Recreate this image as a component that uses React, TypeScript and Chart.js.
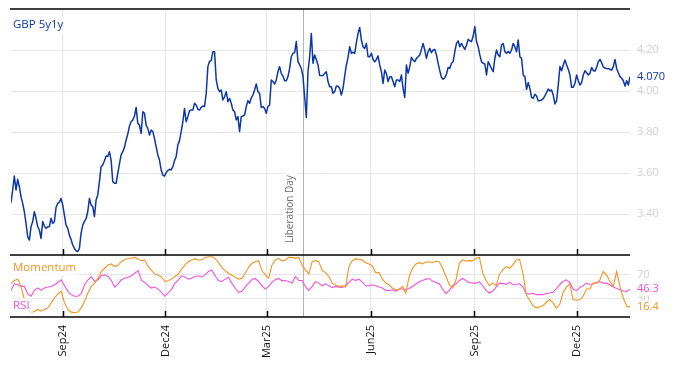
import { useEffect, useRef } from "react";
import { Chart, registerables } from "chart.js";

Chart.register(...registerables);

// ---- data ----
const START_DATE = "2024-07-17";
const END_DATE = "2026-01-17";
const TICK_DATES = ["2024-09-01", "2024-12-01", "2025-03-01", "2025-06-01", "2025-09-01", "2025-12-01"];
const TICK_LABELS = ["Sep24", "Dec24", "Mar25", "Jun25", "Sep25", "Dec25"];
const EVENT_DATE = "2025-04-02";
const EVENT_LABEL = "Liberation Day";
const SERIES_LABEL = "GBP 5y1y";
const MOM_LABEL = "Momentum";
const RSI_LABEL = "RSI";
const Y_TICKS = [3.4, 3.6, 3.8, 4.0, 4.2];
const IND_TICKS = [30, 70];

const GBP_5Y1Y = [
  3.455, 3.517, 3.585, 3.517, 3.569, 3.533, 3.485, 3.452, 3.411, 3.354,
  3.289, 3.273, 3.338, 3.363, 3.411, 3.379, 3.338, 3.322, 3.281, 3.363,
  3.341, 3.330, 3.338, 3.338, 3.379, 3.354, 3.363, 3.432, 3.452, 3.458,
  3.476, 3.444, 3.395, 3.346, 3.330, 3.297, 3.276, 3.249, 3.232, 3.221,
  3.216, 3.232, 3.306, 3.346, 3.364, 3.377, 3.411, 3.476, 3.444, 3.436,
  3.387, 3.468, 3.493, 3.558, 3.631, 3.639, 3.660, 3.683, 3.680, 3.704,
  3.663, 3.558, 3.550, 3.550, 3.598, 3.644, 3.688, 3.704, 3.725, 3.761,
  3.790, 3.829,
  3.850, 3.859, 3.878, 3.920, 3.842, 3.834, 3.793, 3.899, 3.891, 3.834,
  3.818, 3.785, 3.810, 3.802, 3.769, 3.728, 3.688, 3.663, 3.615, 3.590,
  3.585, 3.602, 3.613, 3.618, 3.615, 3.631, 3.660, 3.680, 3.737, 3.758,
  3.802, 3.850, 3.915, 3.850, 3.875, 3.904, 3.907, 3.907, 3.940, 3.932,
  3.911, 3.907, 3.920, 3.927, 3.924, 3.989, 4.119, 4.145, 4.148, 4.192,
  4.192, 4.054, 4.013, 3.997, 4.005, 3.956, 3.972, 3.997, 3.948, 3.964,
  3.940, 3.907, 3.899, 3.859, 3.875, 3.802, 3.875, 3.878, 3.883, 3.924,
  3.953, 3.940, 3.966,
  3.980, 4.005, 4.034, 3.997, 3.989, 3.920, 3.924, 3.915, 3.891, 3.924,
  3.932, 4.054, 4.046, 4.034, 4.054, 4.094, 4.119, 4.086, 4.073, 4.050,
  4.050, 4.070, 4.110, 4.167, 4.184, 4.187, 4.241, 4.143, 4.127, 4.110,
  4.070, 3.972, 3.871, 4.094, 4.167, 4.281, 4.135, 4.176, 4.154, 4.127,
  4.076, 4.075, 4.076, 4.086, 4.094, 4.046, 4.021, 4.021, 3.989, 3.997,
  4.024, 4.023, 4.013, 3.980, 4.013, 4.073, 4.127, 4.163, 4.216, 4.184,
  4.189, 4.184, 4.236, 4.281, 4.310, 4.249, 4.216, 4.208, 4.232, 4.167,
  4.167, 4.184, 4.154,
  4.143, 4.154, 4.171, 4.127, 4.094, 4.037, 4.102, 4.086, 4.046, 4.070,
  4.070, 4.046, 4.021, 4.054, 4.054, 4.046, 4.078, 4.013, 3.969, 4.127,
  4.086, 4.119, 4.164, 4.151, 4.143, 4.159, 4.167, 4.176, 4.203, 4.232,
  4.200, 4.159, 4.192, 4.208, 4.187, 4.200, 4.203, 4.176, 4.135, 4.099,
  4.067, 4.057, 4.065, 4.083, 4.115, 4.110, 4.135, 4.143, 4.192, 4.232,
  4.245, 4.216, 4.232, 4.216, 4.203, 4.224, 4.252, 4.245, 4.241, 4.268,
  4.314, 4.241, 4.216, 4.176, 4.143, 4.135, 4.132, 4.078, 4.143, 4.127,
  4.110, 4.094, 4.159,
  4.200, 4.176, 4.167, 4.224, 4.232, 4.192, 4.184, 4.192, 4.184, 4.200,
  4.232, 4.216, 4.192, 4.249, 4.167, 4.159, 4.078, 4.070, 4.008, 4.041,
  4.013, 3.969, 3.964, 3.984, 3.976, 3.953, 3.953, 3.956, 3.963, 3.976,
  3.992, 4.010, 4.000, 4.005, 3.980, 3.937, 3.953, 4.029, 4.119, 4.099,
  4.127, 4.151, 4.127, 4.106, 4.078, 4.018, 4.018, 4.037, 4.078, 4.050,
  4.029, 4.041, 4.078, 4.099, 4.089, 4.078, 4.086, 4.115, 4.099, 4.097,
  4.115, 4.143, 4.154, 4.138, 4.117, 4.112, 4.110, 4.109, 4.106, 4.102,
  4.119, 4.154, 4.110, 4.089, 4.070, 4.062, 4.050, 4.024, 4.050, 4.029,
  4.070,
];

const MOMENTUM = [
  56.3, 60.7, 62.9, 50.8, 28.9, 9.7, 7.0, 9.7, 12.5, 9.7,
  12.5, 15.2, 23.4, 31.6, 38.2, 42.6, 23.4, 12.5, 8.1, 7.0,
  8.1, 15.2, 26.2, 39.9, 50.8, 56.3, 64.5, 75.5, 81.0, 86.5,
  88.1, 83.7, 85.9, 91.9, 95.8, 96.9, 97.9, 99.0, 95.8, 93.6,
  94.7, 83.7, 77.1, 71.6, 69.5, 66.2, 59.0, 60.7, 62.9, 67.3,
  71.6, 79.3, 86.5, 91.9, 94.7, 96.9, 94.7, 94.7, 99.0, 100,
  100, 97.4, 90.3, 82.6, 77.1, 72.7, 69.5, 66.2, 62.9, 64.5,
  72.7, 82.6,
  89.2, 91.9, 93.6, 77.1, 70.0, 64.5, 86.5, 94.7, 97.4, 93.0,
  94.7, 99.0, 99.0, 97.4, 99.0, 86.5, 78.2, 71.6, 91.9, 93.6,
  91.9, 77.1, 73.8, 67.3, 56.3, 53.0, 50.8, 51.9, 49.7, 83.7,
  93.6, 96.9, 95.8, 94.7, 90.3, 88.1, 84.8, 73.8, 73.8, 62.9,
  56.3, 53.6, 48.1, 45.3, 45.3, 50.8, 39.9, 67.3, 81.0, 88.1,
  90.3, 88.1, 91.4, 91.4, 90.3, 92.5, 91.9, 81.0, 67.3, 53.6,
  48.1, 61.8, 89.2, 94.7, 93.0, 93.6, 93.0, 97.4, 99.0, 72.7,
  60.7, 51.9, 56.3, 51.9, 71.6,
  78.2, 83.7, 81.0, 86.5, 94.7, 95.8, 72.7, 37.1, 27.8, 19.0,
  15.2, 16.8, 19.0, 24.5, 28.9, 23.4, 14.7, 20.7, 41.0, 49.7,
  55.2, 28.9, 27.8, 28.9, 34.4, 46.4, 46.4, 56.3, 56.3, 61.8,
  75.5, 70.0, 59.0, 50.8, 75.5, 50.8, 31.6, 17.9, 16.4,
];

const RSI = [
  44.2, 55.2, 53.6, 50.8, 50.8, 38.8, 34.4, 44.2, 48.1, 44.2,
  48.1, 49.7, 50.8, 53.6, 57.4, 61.8, 51.9, 42.6, 37.1, 34.4,
  34.4, 38.8, 53.6, 61.8, 67.3, 59.0, 61.8, 68.4, 70.0, 67.3,
  60.7, 49.7, 55.2, 61.8, 64.5, 66.2, 68.4, 72.7, 77.1, 60.7,
  57.4, 51.9, 48.1, 49.7, 46.4, 40.9, 34.4, 39.9, 46.4, 56.3,
  61.8, 68.4, 66.2, 62.9, 64.5, 67.3, 68.4, 66.2, 70.0, 75.5,
  78.2, 68.4, 60.7, 59.0, 62.9, 66.2, 56.3, 48.1, 40.9, 42.6,
  49.7, 56.3,
  61.8, 64.0, 59.0, 51.9, 46.4, 50.8, 57.9, 61.8, 64.0, 60.1,
  60.7, 59.0, 56.3, 67.3, 60.7, 60.7, 50.8, 44.2, 50.8, 58.5,
  56.3, 51.9, 55.2, 51.9, 48.6, 50.8, 49.7, 49.2, 51.9, 57.4,
  62.9, 60.7, 62.9, 57.9, 51.9, 51.9, 53.6, 51.9, 49.7, 48.1,
  44.2, 43.7, 45.3, 43.1, 46.4, 46.4, 45.3, 47.5, 50.8, 54.7,
  58.5, 60.7, 62.9, 64.0, 59.6, 57.4, 55.2, 46.4, 38.8, 44.2,
  51.9, 55.2, 60.7, 64.0, 60.1, 57.4, 56.3, 56.3, 58.5, 51.9,
  44.2, 39.9, 43.1, 49.7, 56.3,
  55.8, 54.1, 57.9, 53.6, 54.1, 55.2, 49.7, 38.8, 38.2, 39.3,
  37.1, 37.1, 37.1, 39.3, 39.9, 41.0, 47.0, 53.6, 59.0, 61.8,
  57.4, 46.4, 43.7, 49.2, 51.9, 56.3, 54.1, 55.2, 57.4, 58.5,
  56.3, 56.3, 53.0, 49.7, 47.5, 45.3, 43.1, 42.6, 46.3,
];

// ---- style ----
const BLUE = "#0c37a8";
const ORANGE = "#f7931e";
const PINK = "#f451dc";
const GRID = "#e6e6e6";
const AXIS_TEXT = "#d0d0d0";
const FONT = "'Open Sans', 'DejaVu Sans', sans-serif";

const dayOf = (d: string) =>
  (Date.parse(d + "T00:00:00Z") - Date.parse(START_DATE + "T00:00:00Z")) / 86400000;
const TOTAL_DAYS = dayOf(END_DATE);
const toPoints = (arr: number[]) =>
  arr.map((v, i) => ({ x: (i / (arr.length - 1)) * TOTAL_DAYS, y: v }));

function boxText(
  ctx: CanvasRenderingContext2D,
  text: string,
  x: number,
  y: number,
  color: string,
  size: number,
  padX: number,
  padY: number,
  alpha: number
) {
  ctx.save();
  ctx.font = `${size}px ${FONT}`;
  ctx.textAlign = "left";
  ctx.textBaseline = "middle";
  const w = ctx.measureText(text).width;
  ctx.fillStyle = `rgba(255,255,255,${alpha})`;
  ctx.fillRect(x - padX, y - size / 2 - padY, w + 2 * padX, size + 2 * padY);
  ctx.fillStyle = color;
  ctx.fillText(text, x, y);
  ctx.restore();
}

const decor = {
  id: "decor",
  beforeDatasetsDraw(chart: any) {
    const { ctx, chartArea, scales } = chart;
    const x = Math.round(scales.x.getPixelForValue(dayOf(EVENT_DATE))) + 0.5;
    ctx.save();
    ctx.strokeStyle = "#b4b4b4";
    ctx.lineWidth = 1;
    ctx.beginPath();
    ctx.moveTo(x, chartArea.top);
    ctx.lineTo(x, chartArea.bottom);
    ctx.stroke();
    ctx.restore();
  },
  afterDatasetsDraw(chart: any) {
    const { ctx, chartArea, scales } = chart;
    const ys = scales.y;
    const y2 = scales.y2;
    const xs = scales.x;

    // panel borders
    ctx.save();
    ctx.strokeStyle = "#000";
    ctx.lineWidth = 1.5;
    [ys.top, ys.bottom, y2.bottom].forEach((yy: number) => {
      ctx.beginPath();
      ctx.moveTo(chartArea.left - 1, yy);
      ctx.lineTo(chartArea.right, yy);
      ctx.stroke();
    });
    // tick marks inside panels
    TICK_DATES.forEach((d) => {
      const px = Math.round(xs.getPixelForValue(dayOf(d))) + 0.5;
      [ys.bottom, y2.bottom].forEach((yy: number) => {
        ctx.beginPath();
        ctx.moveTo(px, yy);
        ctx.lineTo(px, yy - 6);
        ctx.stroke();
      });
    });
    ctx.restore();

    // event label
    const ex = xs.getPixelForValue(dayOf(EVENT_DATE));
    ctx.save();
    ctx.translate(ex - 13, ys.bottom - 12);
    ctx.rotate(-Math.PI / 2);
    boxText(ctx, EVENT_LABEL, 0, 0, "#6e6e6e", 10, 2, 2, 1);
    ctx.restore();

    // panel labels
    boxText(ctx, SERIES_LABEL, 13, ys.top + 16, BLUE, 11.5, 2, 3, 0.85);
    boxText(ctx, MOM_LABEL, 13, ys.bottom + 13, ORANGE, 11.5, 2, 2, 0.8);
    boxText(ctx, RSI_LABEL, 13, y2.bottom - 11, PINK, 11.5, 3, 2, 0.8);

    // last value labels
    const rx = chartArea.right + 7;
    const lastBlue = GBP_5Y1Y[GBP_5Y1Y.length - 1];
    const lastMom = MOMENTUM[MOMENTUM.length - 1];
    const lastRsi = RSI[RSI.length - 1];
    boxText(ctx, lastBlue.toFixed(3), rx, ys.getPixelForValue(lastBlue), BLUE, 11, 1, 1, 1);
    boxText(ctx, lastRsi.toFixed(1), rx, y2.getPixelForValue(lastRsi), PINK, 11, 1, 1, 1);
    boxText(ctx, lastMom.toFixed(1), rx, y2.getPixelForValue(lastMom), ORANGE, 11, 1, 1, 1);
  },
};

export default function App() {
  const ref = useRef<HTMLCanvasElement | null>(null);

  useEffect(() => {
    if (!ref.current) return;
    Chart.defaults.font.family = FONT;
    const noPadV = (s: any) => {
      s.width = 44;
      s.paddingTop = 0;
      s.paddingBottom = 0;
    };
    const chart = new Chart(ref.current, {
      type: "line",
      data: {
        datasets: [
          {
            label: SERIES_LABEL,
            data: toPoints(GBP_5Y1Y),
            yAxisID: "y",
            borderColor: BLUE,
            borderWidth: 1.5,
            pointRadius: 0,
            tension: 0,
            borderJoinStyle: "round",
          },
          {
            label: MOM_LABEL,
            data: toPoints(MOMENTUM),
            yAxisID: "y2",
            borderColor: ORANGE,
            borderWidth: 1.1,
            pointRadius: 0,
            tension: 0,
          },
          {
            label: RSI_LABEL,
            data: toPoints(RSI),
            yAxisID: "y2",
            borderColor: PINK,
            borderWidth: 1.1,
            pointRadius: 0,
            tension: 0,
          },
        ],
      },
      options: {
        responsive: false,
        animation: false,
        layout: { padding: { left: 11, top: 9, right: 0, bottom: 0 } },
        plugins: { legend: { display: false }, tooltip: { enabled: false } },
        scales: {
          x: {
            type: "linear",
            position: "bottom",
            min: 0,
            max: TOTAL_DAYS,
            afterBuildTicks: (s: any) => {
              s.ticks = TICK_DATES.map((d) => ({ value: dayOf(d) }));
            },
            afterFit: (s: any) => {
              s.height = 49;
              s.paddingLeft = 0;
              s.paddingRight = 0;
            },
            grid: { color: GRID, drawTicks: false, lineWidth: 1 },
            border: { display: false },
            ticks: {
              autoSkip: false,
              minRotation: 90,
              maxRotation: 90,
              padding: 8,
              color: "#111",
              font: { size: 11 },
              callback: (_v: any, i: number) => TICK_LABELS[i],
            },
          },
          y: {
            type: "linear",
            position: "right",
            stack: "panels",
            stackWeight: 246,
            min: 3.2,
            max: 4.4,
            afterBuildTicks: (s: any) => {
              s.ticks = Y_TICKS.map((v) => ({ value: v }));
            },
            afterFit: noPadV,
            grid: { color: GRID, drawTicks: false },
            border: { display: false },
            ticks: {
              padding: 7,
              color: AXIS_TEXT,
              font: { size: 11 },
              callback: (v: any) => Number(v).toFixed(2),
            },
          },
          y2: {
            type: "linear",
            position: "right",
            stack: "panels",
            stackWeight: 62,
            min: 0,
            max: 103,
            afterBuildTicks: (s: any) => {
              s.ticks = IND_TICKS.map((v) => ({ value: v }));
            },
            afterFit: noPadV,
            grid: { color: GRID, drawTicks: false },
            border: { display: false },
            ticks: {
              padding: 7,
              color: AXIS_TEXT,
              font: { size: 11 },
              callback: (v: any) => String(v),
            },
          },
        },
      },
      plugins: [decor],
    } as any);
    return () => chart.destroy();
  }, []);

  return (
    <div style={{ position: "fixed", left: 0, top: 0, width: 674, height: 366, background: "#fff" }}>
      <canvas ref={ref} width={674} height={366} style={{ display: "block" }} />
    </div>
  );
}
